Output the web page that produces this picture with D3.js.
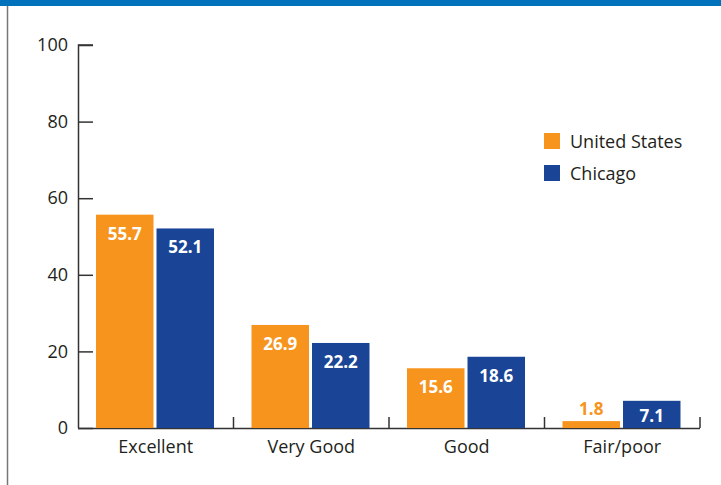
<!DOCTYPE html>
<html>
<head>
<meta charset="utf-8">
<script src="https://cdn.jsdelivr.net/npm/d3@7"></script>
<style>
  body { margin: 0; background: #fff; }
  svg { display: block; }
  text { font-family: "Liberation Sans Narrow", "Open Sans", "DejaVu Sans Condensed", sans-serif; }
</style>
</head>
<body>
<div id="graph"></div>
<script>
var categories = ["Excellent", "Very Good", "Good", "Fair/poor"];
var seriesNames = ["United States", "Chicago"];
var usValues = [55.7, 26.9, 15.6, 1.8];
var chicagoValues = [52.1, 22.2, 18.6, 7.1];
var yTicks = [0, 20, 40, 60, 80, 100];
var colours = ["#f7941d", "#1a4597"];

var W = 721, H = 485;
var margin = {top: 45, right: 21, bottom: 57, left: 78};
var width = W - margin.left - margin.right,
    height = H - margin.top - margin.bottom;

var svg = d3.select('#graph').append('svg')
    .attr('width', W)
    .attr('height', H);

// top band and left frame line
svg.append('rect').attr('x', 0).attr('y', 0).attr('width', W).attr('height', 6).style('fill', '#0072bc');
svg.append('line').attr('x1', 7.5).attr('x2', 7.5).attr('y1', 6).attr('y2', H)
    .style('stroke', '#777').style('stroke-width', 1.5);

var g = svg.append('g').attr('transform', 'translate(' + margin.left + ',' + margin.top + ')');

var y = d3.scaleLinear().domain([0, 100]).range([height, 0]);
var x = d3.scaleBand().domain(categories).range([0, width]);
var xs = d3.scaleBand().domain(seriesNames).range([18, 136]).paddingInner(0.05);

// y axis, ticks pointing inward
var yAxis = d3.axisRight(y).tickValues(yTicks).tickSize(15);
var yg = g.append('g').call(yAxis);
yg.select('.domain').attr('d', 'M15,0H0.5V' + height);
yg.selectAll('.tick line').style('stroke', '#333').style('stroke-width', 1.5);
yg.select('.domain').style('stroke', '#333').style('stroke-width', 1.5).style('fill', 'none');
yg.selectAll('.tick text')
    .attr('text-anchor', 'end')
    .attr('x', -10)
    .style('font-size', '18px')
    .style('fill', '#231f20');

// x axis with boundary ticks pointing up
g.append('line').attr('x1', 0).attr('x2', width).attr('y1', height + 0.5).attr('y2', height + 0.5)
    .style('stroke', '#333').style('stroke-width', 1.5);
g.selectAll('.bound').data(categories).enter().append('line')
    .attr('x1', function(d){ return x(d) + x.bandwidth(); })
    .attr('x2', function(d){ return x(d) + x.bandwidth(); })
    .attr('y1', height).attr('y2', height - 11)
    .style('stroke', '#333').style('stroke-width', 1.5);
g.selectAll('.catlabel').data(categories).enter().append('text')
    .attr('x', function(d){ return x(d) + x.bandwidth() / 2; })
    .attr('y', height + 25)
    .attr('text-anchor', 'middle')
    .style('font-size', '18px')
    .style('fill', '#231f20')
    .text(function(d){ return d; });

var rows = [];
categories.forEach(function(c, i){
    rows.push({cat: c, s: 0, v: usValues[i]});
    rows.push({cat: c, s: 1, v: chicagoValues[i]});
});

g.selectAll('rect.bar').data(rows).enter().append('rect')
    .attr('class', 'bar')
    .attr('x', function(d){ return x(d.cat) + xs(seriesNames[d.s]); })
    .attr('width', xs.bandwidth())
    .attr('y', function(d){ return y(d.v); })
    .attr('height', function(d){ return height - y(d.v); })
    .style('fill', function(d){ return colours[d.s]; });

g.selectAll('text.val').data(rows).enter().append('text')
    .attr('class', 'val')
    .attr('x', function(d){ return x(d.cat) + xs(seriesNames[d.s]) + xs.bandwidth() / 2; })
    .attr('y', function(d){ return d.v < 3 ? y(d.v) - 6 : (d.v < 10 ? y(d.v) + 21 : y(d.v) + 25); })
    .attr('text-anchor', 'middle')
    .style('font-size', '17px')
    .style('font-weight', 'bold')
    .style('fill', function(d){ return d.v < 3 ? colours[d.s] : '#fff'; })
    .text(function(d){ return d.v.toFixed(1); });

// legend
var leg = svg.append('g').attr('transform', 'translate(544,133)');
seriesNames.forEach(function(n, i){
    leg.append('rect').attr('x', 0).attr('y', i * 32).attr('width', 16).attr('height', 16)
        .style('fill', colours[i]);
    leg.append('text').attr('x', 26).attr('y', i * 32 + 15)
        .style('font-size', '18px').style('fill', '#231f20').text(n);
});
</script>
</body>
</html>
